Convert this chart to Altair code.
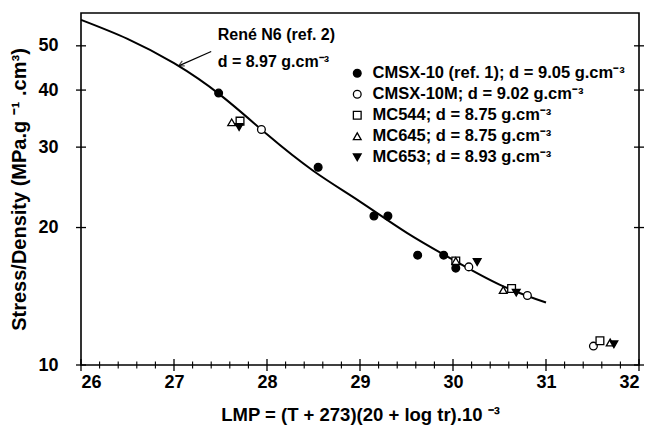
import altair as alt
import pandas as pd

# ---- data ----
curve_x = [26.0, 26.5, 27.0, 27.5, 28.0, 28.5, 29.0, 29.5, 30.0, 30.5, 31.0]
curve_y = [57.0, 51.8, 45.8, 39.0, 32.0, 26.6, 22.8, 19.5, 17.0, 15.0, 13.7]

series_names = [
    "CMSX-10 (ref. 1); d = 9.05 g.cm\u207b\u00b3",
    "CMSX-10M; d = 9.02 g.cm\u207b\u00b3",
    "MC544; d = 8.75 g.cm\u207b\u00b3",
    "MC645; d = 8.75 g.cm\u207b\u00b3",
    "MC653; d = 8.93 g.cm\u207b\u00b3",
]
cmsx10_x = [27.48, 28.55, 29.15, 29.30, 29.62, 29.90, 30.03]
cmsx10_y = [39.4, 27.1, 21.2, 21.2, 17.4, 17.4, 16.3]
cmsx10m_x = [27.94, 30.17, 30.80, 31.51]
cmsx10m_y = [32.8, 16.4, 14.2, 11.0]
mc544_x = [27.71, 30.03, 30.63, 31.58]
mc544_y = [34.2, 16.9, 14.7, 11.3]
mc645_x = [27.62, 30.03, 30.54, 31.69]
mc645_y = [34.0, 16.9, 14.6, 11.2]
mc653_x = [27.70, 30.26, 30.68, 31.73]
mc653_y = [33.2, 16.8, 14.4, 11.1]

shapes = ["circle", "circle", "square", "triangle-up", "triangle-down"]
fills = ["black", "white", "white", "white", "black"]

annot_text = ["Ren\u00e9 N6 (ref. 2)", "d = 8.97 g.cm\u207b\u00b3"]
annot_x = [27.47, 27.47]
annot_y = [52.8, 46.0]
arrow_x = [27.05, 27.40]
arrow_y = [45.2, 48.6]

x_major = [26, 27, 28, 29, 30, 31, 32]
x_minor = [round(26 + 0.2 * i, 1) for i in range(31) if i % 5 != 0]
y_major = [10, 20, 30, 40, 50]

# ---- tables ----
curve_df = pd.DataFrame({"x": curve_x, "y": curve_y})
rows = []
for name, xs, ys in zip(series_names,
                        [cmsx10_x, cmsx10m_x, mc544_x, mc645_x, mc653_x],
                        [cmsx10_y, cmsx10m_y, mc544_y, mc645_y, mc653_y]):
    for a, b in zip(xs, ys):
        rows.append({"x": a, "y": b, "series": name})
pts_df = pd.DataFrame(rows)
annot_df = pd.DataFrame({"x": annot_x, "y": annot_y, "t": annot_text})
arrow_df = pd.DataFrame({"x": arrow_x, "y": arrow_y})
xmaj_df = pd.DataFrame({"x": [float(v) for v in x_major]})
xmin_df = pd.DataFrame({"x": x_minor})
ymaj_df = pd.DataFrame({"y": [float(v) for v in y_major]})

FONT = "Liberation Sans"
W, H = 558, 352
xscale = alt.Scale(domain=[26, 32], nice=False, zero=False)
yscale = alt.Scale(type="log", domain=[10, 59], nice=False)

main_x = alt.Axis(values=x_major, format="d", labelFontSize=18, labelFontWeight="bold",
                  labelFont=FONT, labelColor="black", labelPadding=8, ticks=False, domain=False,
                  labelOverlap=False, grid=False, title="LMP = (T + 273)(20 + log tr).10 \u207b\u00b3",
                  titleFontSize=18.5, titleFont=FONT, titleFontWeight="bold", titleColor="black",
                  titlePadding=14)
main_y = alt.Axis(values=y_major, format="d", labelFontSize=18, labelFontWeight="bold",
                  labelFont=FONT, labelColor="black", labelPadding=23, ticks=False, domain=False,
                  labelOverlap=False, grid=False, title="Stress/Density (MPa.g \u207b\u00b9 .cm\u00b3)",
                  titleFontSize=20, titleFont=FONT, titleFontWeight="bold", titleColor="black",
                  titlePadding=8)

curve = alt.Chart(curve_df).mark_line(color="black", strokeWidth=2, interpolate="natural").encode(
    x=alt.X("x:Q", scale=xscale, axis=main_x),
    y=alt.Y("y:Q", scale=yscale, axis=main_y),
)

# inward tick marks along the frame (tick marks centred just inside the border)
xmaj_ticks = alt.Chart(xmaj_df).mark_tick(color="black", orient="vertical", size=12,
                                          thickness=1.3, opacity=1).encode(
    x=alt.X("x:Q", scale=xscale), y=alt.value(H))
xmin_ticks = alt.Chart(xmin_df).mark_tick(color="black", orient="vertical", size=7,
                                          thickness=1.1, opacity=1).encode(
    x=alt.X("x:Q", scale=xscale), y=alt.value(H))
yl_ticks = alt.Chart(ymaj_df).mark_tick(color="black", orient="horizontal", size=10,
                                        thickness=1.3, opacity=1).encode(
    y=alt.Y("y:Q", scale=yscale), x=alt.value(0))
yr_ticks = alt.Chart(ymaj_df).mark_tick(color="black", orient="horizontal", size=10,
                                        thickness=1.3, opacity=1).encode(
    y=alt.Y("y:Q", scale=yscale), x=alt.value(W))

points = alt.Chart(pts_df).mark_point(size=60, strokeWidth=1.3, opacity=1, filled=False).encode(
    x=alt.X("x:Q", scale=xscale),
    y=alt.Y("y:Q", scale=yscale),
    shape=alt.Shape("series:N", scale=alt.Scale(domain=series_names, range=shapes), title=None),
    fill=alt.Fill("series:N", scale=alt.Scale(domain=series_names, range=fills), title=None),
    stroke=alt.Stroke("series:N", scale=alt.Scale(domain=series_names, range=["black"] * 5),
                      title=None),
)

annot = alt.Chart(annot_df).mark_text(align="left", baseline="middle", fontSize=16,
                                       fontWeight="bold", font=FONT, color="black").encode(
    x=alt.X("x:Q", scale=xscale),
    y=alt.Y("y:Q", scale=yscale),
    text="t:N",
)

arrow_line = alt.Chart(arrow_df).mark_line(color="black", strokeWidth=1.2).encode(
    x=alt.X("x:Q", scale=xscale),
    y=alt.Y("y:Q", scale=yscale),
)
arrow_head = alt.Chart(arrow_df.iloc[[0]]).mark_point(
    shape="M0,0L2,-1M0,0L2,1", size=30, angle=333, stroke="black", strokeWidth=1.2, filled=False
).encode(
    x=alt.X("x:Q", scale=xscale),
    y=alt.Y("y:Q", scale=yscale),
)

chart = alt.layer(curve, xmaj_ticks, xmin_ticks, yl_ticks, yr_ticks, points, annot,
                  arrow_line, arrow_head).properties(
    width=W, height=H,
    autosize=alt.AutoSizeParams(type="none"),
    padding={"left": 73, "top": 5, "right": 6, "bottom": 70},
    background="white",
).configure_view(
    stroke="black", strokeWidth=1.6
).configure_legend(
    orient="none", legendX=268, legendY=52,
    labelFont=FONT, labelFontSize=16.5, labelFontWeight="bold", labelColor="black",
    labelLimit=400, symbolSize=60, symbolStrokeWidth=1.3, rowPadding=4, labelOffset=7,
)

chart.save("out.html", embed_options={"renderer": "svg", "actions": False})
